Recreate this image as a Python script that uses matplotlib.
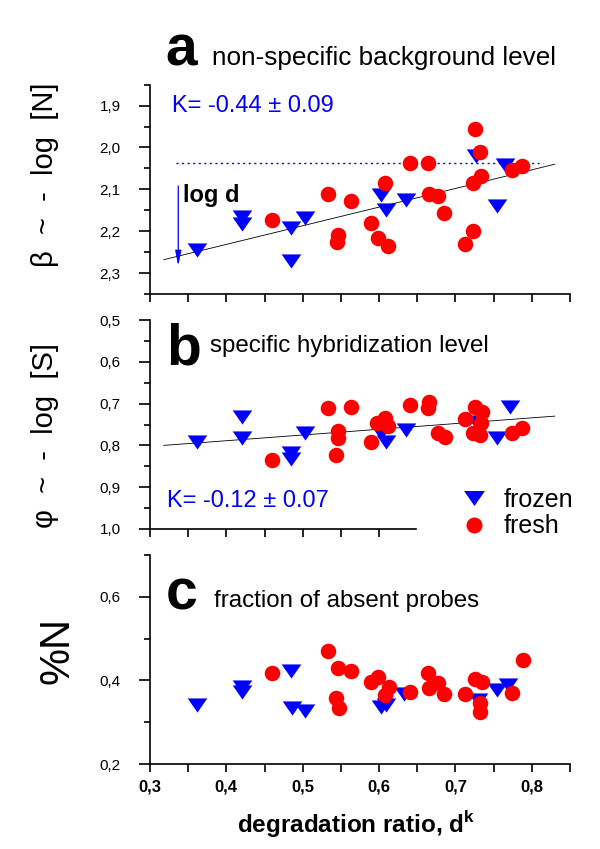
import numpy as np
import matplotlib
matplotlib.use("Agg")
import matplotlib.pyplot as plt
from matplotlib.lines import Line2D

plt.rcParams['font.family'] = ['Liberation Sans', 'DejaVu Sans']

# ---- data ----
# panel a: beta ~ -log[N]
a_frozen_x = [0.361, 0.420, 0.420, 0.485, 0.484, 0.503, 0.603, 0.609, 0.635, 0.727, 0.754, 0.765]
a_frozen_y = [2.245, 2.165, 2.183, 2.193, 2.272, 2.169, 2.114, 2.149, 2.125, 2.021, 2.140, 2.042]
a_fresh_x = [0.460, 0.533, 0.546, 0.545, 0.563, 0.590, 0.598, 0.612, 0.608, 0.640, 0.664,
             0.666, 0.677, 0.685, 0.712, 0.723, 0.725, 0.732, 0.734, 0.723, 0.774, 0.787]
a_fresh_y = [2.173, 2.111, 2.209, 2.225, 2.127, 2.181, 2.217, 2.235, 2.086, 2.038, 2.038,
             2.110, 2.115, 2.156, 2.230, 2.199, 1.957, 2.010, 2.068, 2.086, 2.054, 2.045]
a_fit_x = [0.318, 0.830]
a_fit_y = [2.268, 2.040]

# panel b: phi ~ -log[S]
b_frozen_x = [0.361, 0.420, 0.420, 0.485, 0.485, 0.503, 0.603, 0.609, 0.635, 0.727, 0.754, 0.771]
b_frozen_y = [0.791, 0.731, 0.783, 0.819, 0.833, 0.771, 0.770, 0.791, 0.763, 0.745, 0.783, 0.707]
b_fresh_x = [0.460, 0.533, 0.563, 0.546, 0.546, 0.543, 0.590, 0.597, 0.608, 0.612, 0.640, 0.666,
             0.664, 0.677, 0.686, 0.712, 0.725, 0.735, 0.723, 0.732, 0.733, 0.774, 0.787]
b_fresh_y = [0.835, 0.711, 0.709, 0.765, 0.783, 0.823, 0.791, 0.747, 0.735, 0.754, 0.703, 0.695,
             0.711, 0.770, 0.781, 0.738, 0.707, 0.719, 0.771, 0.775, 0.746, 0.770, 0.759]
b_fit_x = [0.318, 0.830]
b_fit_y = [0.800, 0.730]

# panel c: %N
c_frozen_x = [0.361, 0.420, 0.420, 0.484, 0.486, 0.503, 0.602, 0.609, 0.633, 0.729, 0.754, 0.769]
c_frozen_y = [0.340, 0.384, 0.372, 0.422, 0.333, 0.326, 0.336, 0.340, 0.368, 0.352, 0.376, 0.388]
c_fresh_x = [0.460, 0.533, 0.546, 0.563, 0.543, 0.547, 0.590, 0.598, 0.613, 0.608, 0.640,
             0.664, 0.677, 0.666, 0.685, 0.712, 0.725, 0.735, 0.732, 0.732, 0.774, 0.788]
c_fresh_y = [0.417, 0.471, 0.430, 0.422, 0.359, 0.333, 0.395, 0.408, 0.384, 0.366, 0.372,
             0.417, 0.394, 0.383, 0.367, 0.368, 0.404, 0.396, 0.346, 0.325, 0.369, 0.449]

# "log d" marker in panel a
logd_x = 0.337
logd_level = 2.037
logd_arrow = [2.092, 2.283]

W, H = 600, 849
fig = plt.figure(figsize=(W / 100, H / 100), dpi=100)


def box(top, bottom, left=150, right=570):
    return [left / W, 1 - bottom / H, (right - left) / W, (bottom - top) / H]


def px(x, y):
    return x / W, 1 - y / H


tri = [(-1.0, 0.72), (1.0, 0.72), (0.0, -0.72)]
BLUE, RED = "#0000ff", "#ff0000"


def style(ax):
    ax.spines['top'].set_visible(False)
    ax.spines['right'].set_visible(False)
    for s in ('left', 'bottom'):
        ax.spines[s].set_linewidth(1.2)
    ax.set_xlim(0.3, 0.85)
    ax.set_xticks(np.arange(0.3, 0.851, 0.1))
    ax.set_xticks(np.arange(0.35, 0.851, 0.1), minor=True)
    ax.tick_params(axis='x', which='both', direction='out', length=6, width=1.2)
    ax.tick_params(axis='y', which='major', direction='out', length=8, width=1.2,
                   labelsize=11, pad=13)
    ax.tick_params(axis='y', which='minor', direction='out', length=4.5, width=1.2)


def points(ax, fx, fy, rx, ry):
    ax.scatter(fx, fy, marker=tri, s=200, color=BLUE, linewidths=0, zorder=3)
    ax.scatter(rx, ry, marker='o', s=125, color=RED, linewidths=0, zorder=4)


def comma(vals, fmt):
    return [fmt.format(v).replace('.', ',') for v in vals]


# ---- panel a ----
ax1 = fig.add_axes(box(84.7, 294))
style(ax1)
points(ax1, a_frozen_x, a_frozen_y, a_fresh_x, a_fresh_y)
ax1.plot(a_fit_x, a_fit_y, color='black', lw=0.6, zorder=2)
ax1.plot([logd_x - 0.003, 0.815], [logd_level, logd_level], color=BLUE, lw=1.0,
         linestyle=(0, (1.5, 2.5)), zorder=2)
ax1.annotate('', xy=(logd_x, logd_arrow[1]), xytext=(logd_x, logd_arrow[0]),
             arrowprops=dict(arrowstyle='-|>,head_length=0.9,head_width=0.18',
                             color=BLUE, lw=0.9, shrinkA=0, shrinkB=0))
ax1.set_ylim(2.35, 1.85)
yt = [1.9, 2.0, 2.1, 2.2, 2.3]
ax1.set_yticks(yt)
ax1.set_yticklabels(comma(yt, "{:.1f}"))
ax1.set_yticks(np.arange(1.85, 2.351, 0.1), minor=True)
ax1.tick_params(axis='x', labelbottom=False)

# ---- panel b ----
ax2 = fig.add_axes(box(320, 529))
style(ax2)
points(ax2, b_frozen_x, b_frozen_y, b_fresh_x, b_fresh_y)
ax2.plot(b_fit_x, b_fit_y, color='black', lw=0.6, zorder=2)
ax2.set_ylim(1.0, 0.5)
yt = [0.5, 0.6, 0.7, 0.8, 0.9, 1.0]
ax2.set_yticks(yt)
ax2.set_yticklabels(comma(yt, "{:.1f}"))
ax2.set_yticks(np.arange(0.55, 1.0, 0.1), minor=True)
ax2.spines['bottom'].set_bounds(0.3, 0.648)
ax2.set_xticks([0.3, 0.4, 0.5, 0.6])
ax2.set_xticks([0.35, 0.45, 0.55], minor=True)
ax2.tick_params(axis='x', labelbottom=False)

# ---- panel c ----
ax3 = fig.add_axes(box(555, 764))
style(ax3)
points(ax3, c_frozen_x, c_frozen_y, c_fresh_x, c_fresh_y)
ax3.set_ylim(0.2, 0.7)
yt = [0.2, 0.4, 0.6]
ax3.set_yticks(yt)
ax3.set_yticklabels(comma(yt, "{:.1f}"))
ax3.set_yticks([0.3, 0.5, 0.7], minor=True)
xt = [0.3, 0.4, 0.5, 0.6, 0.7, 0.8]
ax3.set_xticklabels(comma(xt, "{:.1f}"), fontweight='bold', fontsize=12)
ax3.tick_params(axis='x', pad=5)

# ---- texts ----
fig.text(*px(165, 65), 'a', fontsize=41, fontweight='bold', va='baseline')
fig.text(*px(212, 65), 'non-specific background level', fontsize=18.8, va='baseline')
fig.text(*px(166, 365), 'b', fontsize=41, fontweight='bold', va='baseline')
fig.text(*px(210, 352), 'specific hybridization level', fontsize=17.4, va='baseline')
fig.text(*px(166, 610), 'c', fontsize=41, fontweight='bold', va='baseline')
fig.text(*px(214, 607), 'fraction of absent probes', fontsize=17.4, va='baseline')

fig.text(*px(172, 112), 'K= -0.44 \u00b1 0.09', fontsize=17, color=BLUE, va='baseline')
fig.text(*px(167, 507), 'K= -0.12 \u00b1 0.07', fontsize=17, color=BLUE, va='baseline')
fig.text(*px(183, 202), 'log d', fontsize=17, fontweight='bold', va='baseline')

fig.text(*px(45, 175), '\u03b2  ~  -  log  [N]', fontsize=21, rotation=90, ha='center', va='center')
fig.text(*px(45, 436), '\u03c6  ~  -  log  [S]', fontsize=21, rotation=90, ha='center', va='center')
fig.text(*px(58, 650), '%N', fontsize=30, rotation=90, ha='center', va='center')

fig.text(*px(356, 824), 'degradation ratio, d$^\\mathregular{k}$', fontsize=17.5,
         fontweight='bold', ha='center', va='center')

# legend
handles = [Line2D([], [], marker=tri, color=BLUE, linestyle='none', markersize=15, markeredgewidth=0),
           Line2D([], [], marker='o', color=RED, linestyle='none', markersize=11.5, markeredgewidth=0)]
fig.legend(handles, ['frozen', 'fresh'], loc='center left', bbox_to_anchor=px(444, 513),
           frameon=False, fontsize=18, handletextpad=0.5, labelspacing=0.1,
           borderpad=0, handlelength=1.4)

fig.savefig('out.png', dpi=100)
